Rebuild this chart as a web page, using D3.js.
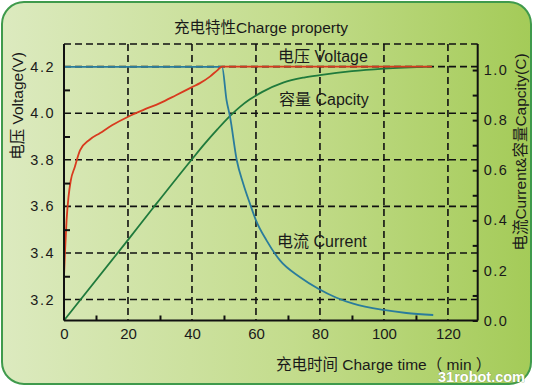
<!DOCTYPE html>
<html>
<head>
<meta charset="utf-8">
<script src="https://cdn.jsdelivr.net/npm/d3@7/dist/d3.min.js"></script>
<style>
  html, body { margin: 0; padding: 0; background: #fff; }
  svg text { font-family: "Liberation Sans", Arial, "Noto Sans CJK SC", sans-serif; fill: #1a1a1a; }
</style>
</head>
<body>
<svg id="chart" width="537" height="389"></svg>
<script>
// Voltage (V) vs time (min)
const voltTime = [0, 0.3, 0.8, 1.4, 2.1, 3.4, 5, 8, 11.3, 15, 20.2, 25, 30, 35, 40, 42.5, 45.6, 48, 49.4, 60, 80, 100, 115]
const voltage  = [3.30, 3.40, 3.54, 3.64, 3.71, 3.77, 3.84, 3.886, 3.915, 3.948, 3.986, 4.015, 4.043, 4.077, 4.112, 4.129, 4.157, 4.185, 4.2, 4.2, 4.2, 4.2, 4.2]

// Capacity (C) vs time
const capTime  = [0, 20.2, 28, 40, 44, 48, 52, 55, 58, 62, 68.5, 75, 80, 90, 100, 115]
const capacity = [0, 0.325, 0.452, 0.644, 0.706, 0.764, 0.818, 0.853, 0.882, 0.913, 0.950, 0.970, 0.980, 0.996, 1.006, 1.014]

// Current (C) vs time
const curTime  = [0, 49.4, 50.8, 51.9, 54, 56, 58.1, 60, 63.3, 67.5, 73.8, 79.5, 85, 90.4, 99.8, 107, 115.4]
const current  = [1.013, 1.013, 0.88, 0.813, 0.64, 0.547, 0.467, 0.40, 0.32, 0.24, 0.173, 0.127, 0.092, 0.067, 0.042, 0.03, 0.022]

const xTicks      = [0, 20, 40, 60, 80, 100, 120]
const xMinor      = [10, 30, 50, 70, 90, 110]
const voltTicks   = [3.2, 3.4, 3.6, 3.8, 4.0, 4.2]
const voltMinor   = [3.3, 3.5, 3.7, 3.9, 4.1]
const rightTicks  = [0, 0.2, 0.4, 0.6, 0.8, 1.0]
const rightMinor  = [0.1, 0.3, 0.5, 0.7, 0.9]

const svg = d3.select('#chart')

// Background panel
const defs = svg.append('defs')
const grad = defs.append('linearGradient').attr('id', 'bg').attr('x1', 0).attr('x2', 1).attr('y1', 0).attr('y2', 0)
grad.append('stop').attr('offset', '0%').attr('stop-color', '#dceabf')
grad.append('stop').attr('offset', '55%').attr('stop-color', '#c3dc8c')
grad.append('stop').attr('offset', '100%').attr('stop-color', '#a4cb58')

svg.append('rect')
  .attr('x', 2).attr('y', 2).attr('width', 529).attr('height', 382)
  .attr('rx', 22).attr('ry', 22)
  .attr('fill', 'url(#bg)')
  .attr('stroke', '#3f9a4c').attr('stroke-width', 2)

// Scales
const L = 64, R = 477.7, T = 44, B = 320.5
const x  = d3.scaleLinear().domain([0, 129.3]).range([L, R])
const yV = d3.scaleLinear().domain([3.11, 4.297]).range([B, T])
const yC = d3.scaleLinear().domain([0, 1.104]).range([B, T])

// Grid
const grid = svg.append('g').attr('stroke', '#111').attr('stroke-width', 1.6).attr('stroke-dasharray', '7,4')
grid.selectAll('line.h').data(voltTicks).join('line')
  .attr('x1', L).attr('x2', R).attr('y1', d => yV(d)).attr('y2', d => yV(d))
grid.append('line').attr('x1', L).attr('x2', R).attr('y1', T).attr('y2', T)
grid.selectAll('line.v').data(xTicks.slice(1)).join('line')
  .attr('x1', d => x(d)).attr('x2', d => x(d)).attr('y1', T).attr('y2', B)

// Curves
const lineV = d3.line().x((d, i) => x(voltTime[i])).y(d => yV(d)).curve(d3.curveMonotoneX)
const lineC = d3.line().x((d, i) => x(capTime[i])).y(d => yC(d)).curve(d3.curveMonotoneX)
const lineI = d3.line().x((d, i) => x(curTime[i])).y(d => yC(d)).curve(d3.curveMonotoneX)

svg.append('path').attr('d', lineC(capacity)).attr('fill', 'none').attr('stroke', '#1f7a3c').attr('stroke-width', 1.8)
svg.append('path').attr('d', lineI(current)).attr('fill', 'none').attr('stroke', '#2a7c9c').attr('stroke-width', 1.8)
svg.append('path').attr('d', lineV(voltage)).attr('fill', 'none').attr('stroke', '#d83a1e').attr('stroke-width', 1.8)

// Axes (ticks drawn inward)
const axisStyle = g => {
  g.select('.domain').attr('stroke', '#111').attr('stroke-width', 2)
  g.selectAll('.tick line').attr('stroke', '#111').attr('stroke-width', 2)
  g.selectAll('text').attr('font-size', 14.5).attr('fill', '#1a1a1a').style('letter-spacing', '1.5px')
}

svg.append('g').attr('transform', `translate(0,${B})`)
  .call(d3.axisBottom(x).tickValues(xTicks).tickSize(0).tickPadding(5).tickFormat(d3.format('d')))
  .call(axisStyle)
  .call(g => g.select('.domain').attr('d', `M${L},0H${R}`))
  .call(g => g.selectAll('text').style('letter-spacing', '0px').attr('font-size', 15).attr('dy', '0.9em'))
svg.append('g').attr('transform', `translate(0,${B})`)
  .call(d3.axisTop(x).tickValues(xMinor).tickSize(5).tickFormat(''))
  .call(axisStyle).call(g => g.select('.domain').remove())

svg.append('g').attr('transform', `translate(${L},0)`)
  .call(d3.axisLeft(yV).tickValues(voltTicks).tickSize(0).tickPadding(9).tickFormat(d3.format('.1f')))
  .call(axisStyle)
  .call(g => g.select('.domain').attr('d', `M0,${T}V${B}`))
svg.append('g').attr('transform', `translate(${L},0)`)
  .call(d3.axisRight(yV).tickValues(voltMinor).tickSize(6).tickFormat(''))
  .call(axisStyle).call(g => g.select('.domain').remove())

svg.append('g').attr('transform', `translate(${R},0)`)
  .call(d3.axisLeft(yC).tickValues(rightTicks.concat(rightMinor)).tickSize(5).tickFormat(''))
  .call(axisStyle)
  .call(g => g.select('.domain').attr('d', `M0,${T}V${B}`))
svg.append('g').attr('transform', `translate(${R},0)`)
  .call(d3.axisRight(yC).tickValues(rightTicks).tickSize(0).tickPadding(6).tickFormat(d3.format('.1f')))
  .call(axisStyle).call(g => g.select('.domain').remove())

// Titles & labels
const txt = (s, px, py, opts = {}) => svg.append('text')
  .attr('x', px).attr('y', py)
  .attr('font-size', opts.size || 16)
  .attr('text-anchor', opts.anchor || 'start')
  .attr('transform', opts.rotate ? `rotate(-90,${px},${py})` : null)
  .text(s)

txt('充电特性Charge property', 261, 33, { anchor: 'middle', size: 15.5 })
txt('充电时间 Charge time（ min ）', 276, 370, { size: 15.5 })
txt('电压 Voltage(V)', 23, 106, { anchor: 'middle', rotate: true, size: 15.5 })
txt('电流Current&容量Capcity(C)', 526, 152, { anchor: 'middle', rotate: true, size: 15.5 })

txt('电压 Voltage', 278, 62)
txt('容量 Capcity', 279, 105)
txt('电流 Current', 277, 247)

// Watermark
svg.append('text')
  .attr('x', 438).attr('y', 382)
  .attr('font-family', '"DejaVu Sans Mono", monospace')
  .attr('font-size', 14.5).attr('font-weight', 'bold')
  .attr('stroke', '#7a9a50').attr('stroke-width', 0.6).attr('paint-order', 'stroke')
  .style('fill', '#fff')
  .text('31robot.com')
</script>
</body>
</html>
